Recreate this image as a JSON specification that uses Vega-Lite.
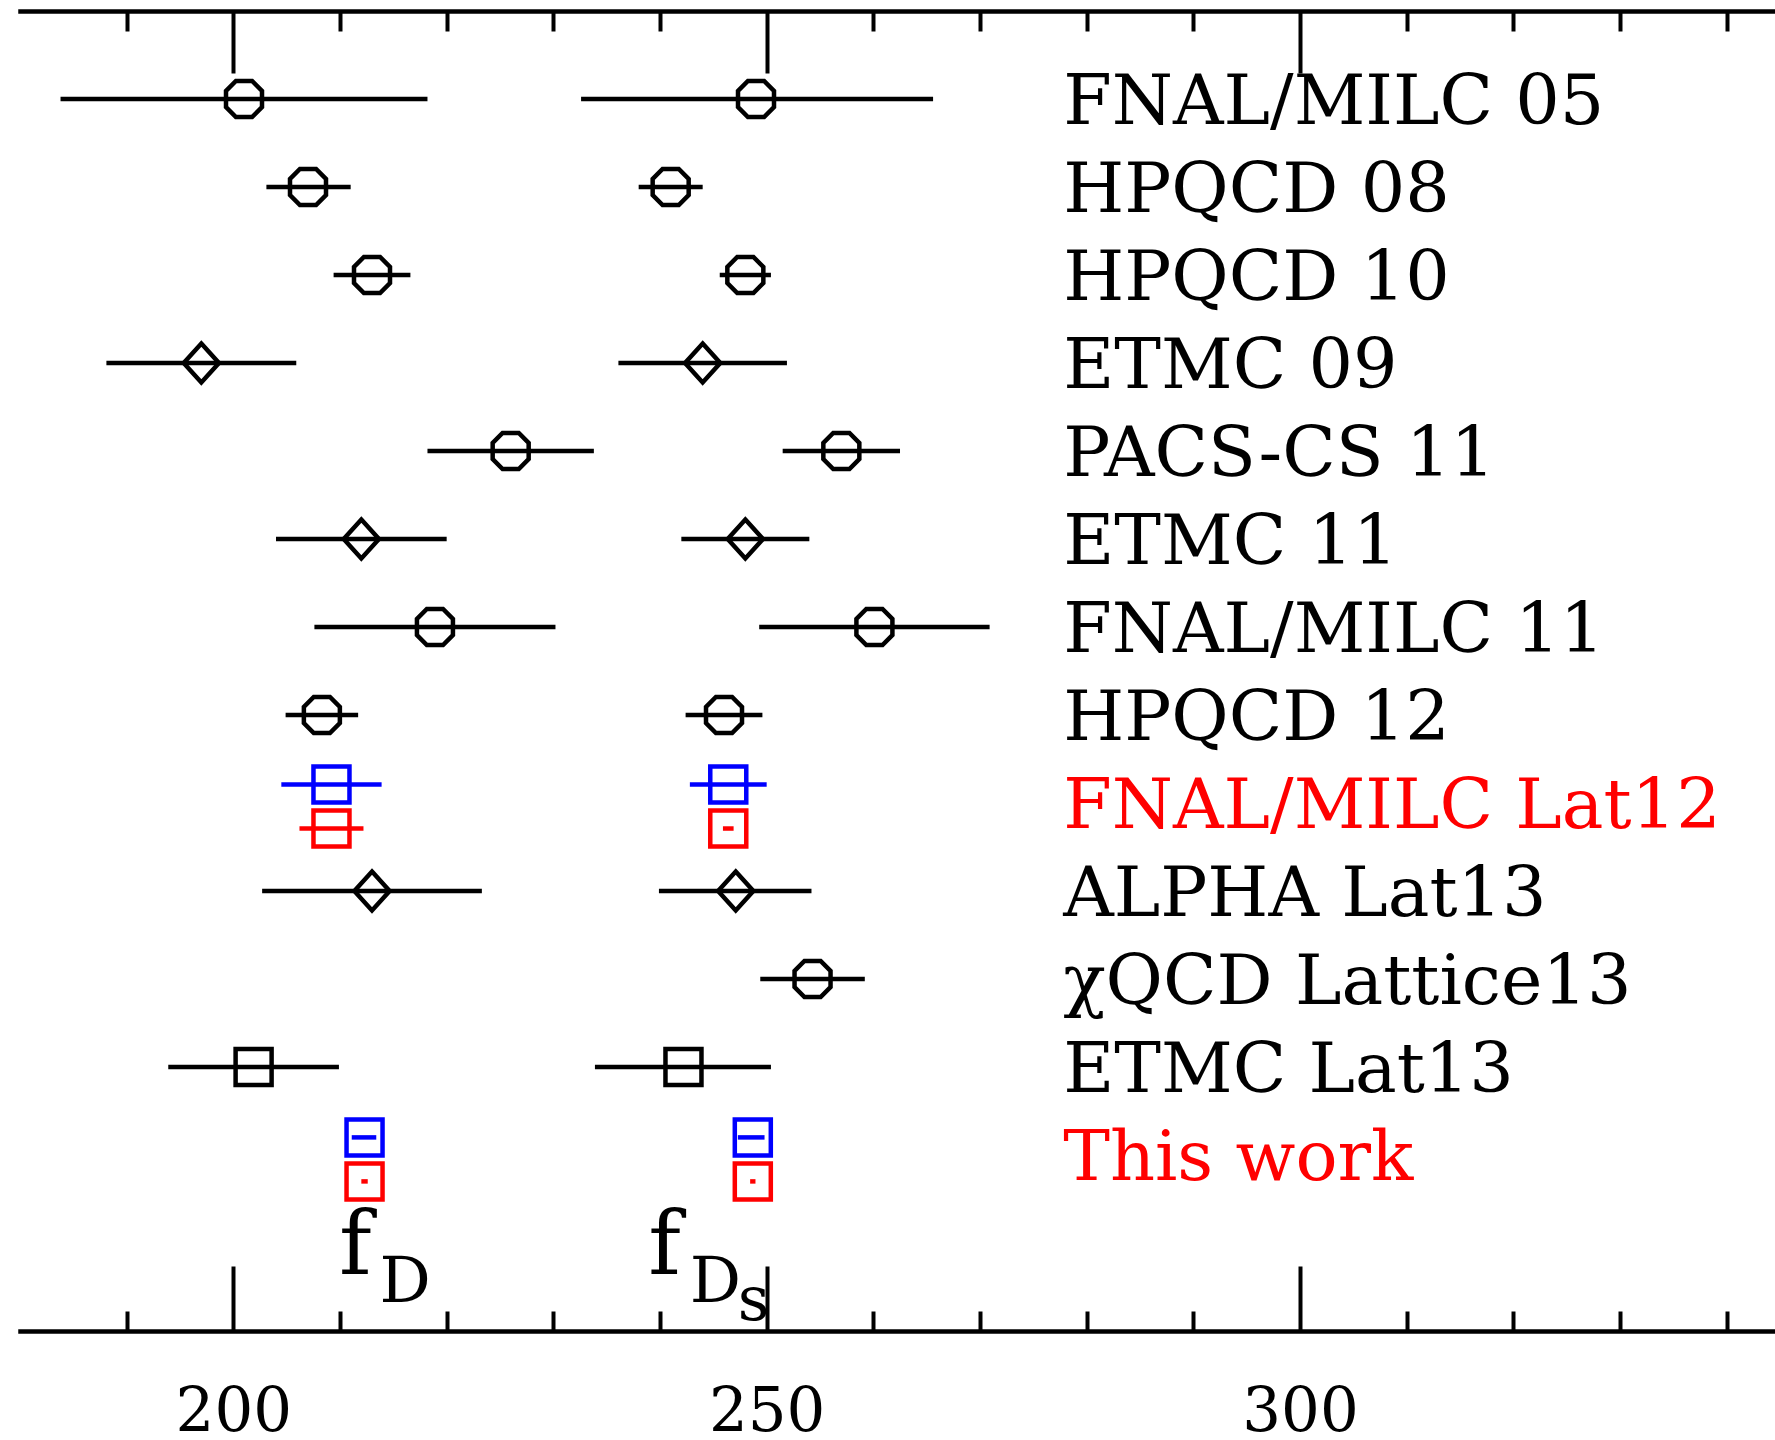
{
  "$schema": "https://vega.github.io/schema/vega-lite/v6.json",
  "width": 1755,
  "height": 1320,
  "autosize": "none",
  "padding": {"left": 20, "top": 11, "right": 0, "bottom": 109},
  "background": "white",
  "config": {"view": {"stroke": null}},
  "datasets": {
    "points": [
      {"collab": "FNAL/MILC 05", "row": 1, "meson": "fD", "val": 201.0, "lo": 183.8, "hi": 218.2, "sym": "octagon", "grp": "lit"},
      {"collab": "FNAL/MILC 05", "row": 1, "meson": "fDs", "val": 249.0, "lo": 232.6, "hi": 265.6, "sym": "octagon", "grp": "lit"},
      {"collab": "HPQCD 08", "row": 2, "meson": "fD", "val": 207.0, "lo": 203.1, "hi": 211.0, "sym": "octagon", "grp": "lit"},
      {"collab": "HPQCD 08", "row": 2, "meson": "fDs", "val": 241.0, "lo": 238.0, "hi": 244.0, "sym": "octagon", "grp": "lit"},
      {"collab": "HPQCD 10", "row": 3, "meson": "fD", "val": 213.0, "lo": 209.4, "hi": 216.6, "sym": "octagon", "grp": "lit"},
      {"collab": "HPQCD 10", "row": 3, "meson": "fDs", "val": 248.0, "lo": 245.6, "hi": 250.4, "sym": "octagon", "grp": "lit"},
      {"collab": "ETMC 09", "row": 4, "meson": "fD", "val": 197.0, "lo": 188.1, "hi": 205.9, "sym": "diamond", "grp": "lit"},
      {"collab": "ETMC 09", "row": 4, "meson": "fDs", "val": 244.0, "lo": 236.1, "hi": 251.9, "sym": "diamond", "grp": "lit"},
      {"collab": "PACS-CS 11", "row": 5, "meson": "fD", "val": 226.0, "lo": 218.2, "hi": 233.8, "sym": "octagon", "grp": "lit"},
      {"collab": "PACS-CS 11", "row": 5, "meson": "fDs", "val": 257.0, "lo": 251.5, "hi": 262.5, "sym": "octagon", "grp": "lit"},
      {"collab": "ETMC 11", "row": 6, "meson": "fD", "val": 212.0, "lo": 204.0, "hi": 220.0, "sym": "diamond", "grp": "lit"},
      {"collab": "ETMC 11", "row": 6, "meson": "fDs", "val": 248.0, "lo": 242.0, "hi": 254.0, "sym": "diamond", "grp": "lit"},
      {"collab": "FNAL/MILC 11", "row": 7, "meson": "fD", "val": 218.9, "lo": 207.6, "hi": 230.2, "sym": "octagon", "grp": "lit"},
      {"collab": "FNAL/MILC 11", "row": 7, "meson": "fDs", "val": 260.1, "lo": 249.3, "hi": 270.9, "sym": "octagon", "grp": "lit"},
      {"collab": "HPQCD 12", "row": 8, "meson": "fD", "val": 208.3, "lo": 204.9, "hi": 211.7, "sym": "octagon", "grp": "lit"},
      {"collab": "HPQCD 12", "row": 8, "meson": "fDs", "val": 246.0, "lo": 242.4, "hi": 249.6, "sym": "octagon", "grp": "lit"},
      {"collab": "FNAL/MILC Lat12", "row": 8.79, "meson": "fD", "val": 209.2, "lo": 204.5, "hi": 213.9, "sym": "square", "grp": "total"},
      {"collab": "FNAL/MILC Lat12", "row": 8.79, "meson": "fDs", "val": 246.4, "lo": 242.8, "hi": 250.0, "sym": "square", "grp": "total"},
      {"collab": "FNAL/MILC Lat12", "row": 9.29, "meson": "fD", "val": 209.2, "lo": 206.2, "hi": 212.2, "sym": "square", "grp": "stat"},
      {"collab": "FNAL/MILC Lat12", "row": 9.29, "meson": "fDs", "val": 246.4, "lo": 245.9, "hi": 246.9, "sym": "square", "grp": "stat"},
      {"collab": "ALPHA Lat13", "row": 10, "meson": "fD", "val": 213.0, "lo": 202.7, "hi": 223.3, "sym": "diamond", "grp": "lit"},
      {"collab": "ALPHA Lat13", "row": 10, "meson": "fDs", "val": 247.1, "lo": 239.9, "hi": 254.2, "sym": "diamond", "grp": "lit"},
      {"collab": "χQCD Lattice13", "row": 11, "meson": "fDs", "val": 254.3, "lo": 249.4, "hi": 259.2, "sym": "octagon", "grp": "lit"},
      {"collab": "ETMC Lat13", "row": 12, "meson": "fD", "val": 201.9, "lo": 193.9, "hi": 209.9, "sym": "square", "grp": "lit"},
      {"collab": "ETMC Lat13", "row": 12, "meson": "fDs", "val": 242.2, "lo": 233.9, "hi": 250.4, "sym": "square", "grp": "lit"},
      {"collab": "This work", "row": 12.8, "meson": "fD", "val": 212.3, "lo": 211.1, "hi": 213.4, "sym": "square", "grp": "total"},
      {"collab": "This work", "row": 12.8, "meson": "fDs", "val": 248.7, "lo": 247.3, "hi": 249.8, "sym": "square", "grp": "total"},
      {"collab": "This work", "row": 13.3, "meson": "fD", "val": 212.3, "lo": 212.0, "hi": 212.6, "sym": "square", "grp": "stat"},
      {"collab": "This work", "row": 13.3, "meson": "fDs", "val": 248.7, "lo": 248.45, "hi": 248.95, "sym": "square", "grp": "stat"}
    ],
    "labels": [
      {"name": "FNAL/MILC 05", "row": 1, "grp": "lit"},
      {"name": "HPQCD 08", "row": 2, "grp": "lit"},
      {"name": "HPQCD 10", "row": 3, "grp": "lit"},
      {"name": "ETMC 09", "row": 4, "grp": "lit"},
      {"name": "PACS-CS 11", "row": 5, "grp": "lit"},
      {"name": "ETMC 11", "row": 6, "grp": "lit"},
      {"name": "FNAL/MILC 11", "row": 7, "grp": "lit"},
      {"name": "HPQCD 12", "row": 8, "grp": "lit"},
      {"name": "FNAL/MILC Lat12", "row": 9, "grp": "new"},
      {"name": "ALPHA Lat13", "row": 10, "grp": "lit"},
      {"name": "χQCD Lattice13", "row": 11, "grp": "lit"},
      {"name": "ETMC Lat13", "row": 12, "grp": "lit"},
      {"name": "This work", "row": 13, "grp": "new"}
    ],
    "one": [{}]
  },
  "resolve": {"axis": {"x": "independent"}},
  "layer": [
    {
      "data": {"name": "points"},
      "mark": {"type": "rule", "strokeWidth": 4.5, "strokeCap": "butt"},
      "encoding": {
        "x": {
          "field": "lo", "type": "quantitative",
          "scale": {"domain": [180, 344.53], "nice": false, "zero": false},
          "axis": {
            "orient": "bottom", "title": null,
            "values": [190, 200, 210, 220, 230, 240, 250, 260, 270, 280, 290, 300, 310, 320, 330, 340],
            "domain": true, "domainColor": "black", "domainWidth": 4.5, "domainCap": "square",
            "ticks": true, "tickColor": "black", "tickWidth": 4,
            "tickSize": {"condition": {"test": "datum.value % 50 === 0", "value": -65}, "value": -20},
            "labelExpr": "datum.value % 50 === 0 ? datum.label : ''",
            "labelFont": "DejaVu Serif", "labelFontSize": 61, "labelColor": "black",
            "labelPadding": 116, "labelFlush": false, "labelOverlap": false, "labelBound": false,
            "grid": false
          }
        },
        "x2": {"field": "hi"},
        "y": {
          "field": "row", "type": "quantitative",
          "scale": {"domain": [0, 15], "reverse": true, "nice": false, "zero": false},
          "axis": {"orient": "left", "title": null, "domain": true, "domainColor": "black", "domainWidth": 4.5, "domainCap": "square", "ticks": false, "labels": false, "grid": false}
        },
        "color": {
          "field": "grp", "type": "nominal",
          "scale": {"domain": ["lit", "total", "stat", "new"], "range": ["#000000", "#0000ff", "#ff0000", "#ff0000"]},
          "legend": null
        }
      }
    },
    {
      "data": {"name": "points"},
      "mark": {"type": "point", "filled": false, "strokeWidth": 4.5, "size": 1296, "opacity": 1},
      "encoding": {
        "x": {
          "field": "val", "type": "quantitative",
          "scale": {"domain": [180, 344.53], "nice": false, "zero": false},
          "axis": {
            "orient": "top", "title": null,
            "values": [190, 200, 210, 220, 230, 240, 250, 260, 270, 280, 290, 300, 310, 320, 330, 340],
            "domain": true, "domainColor": "black", "domainWidth": 4.5, "domainCap": "square",
            "ticks": true, "tickColor": "black", "tickWidth": 4,
            "tickSize": {"condition": {"test": "datum.value % 50 === 0", "value": -62}, "value": -20},
            "labels": false, "grid": false
          }
        },
        "y": {"field": "row", "type": "quantitative", "axis": null},
        "shape": {
          "field": "sym", "type": "nominal",
          "scale": {"domain": ["octagon", "diamond", "square"], "range": ["M -0.45,-1 L 0.45,-1 L 1,-0.45 L 1,0.45 L 0.45,1 L -0.45,1 L -1,0.45 L -1,-0.45 Z", "M 0,-1.08 L 0.98,0 L 0,1.08 L -0.98,0 Z", "square"]},
          "legend": null
        },
        "color": {"field": "grp", "type": "nominal", "legend": null}
      }
    },
    {
      "data": {"name": "labels"},
      "mark": {"type": "text", "font": "DejaVu Serif", "fontSize": 70, "align": "left", "baseline": "alphabetic", "dy": 25},
      "encoding": {
        "x": {"datum": 277.8, "type": "quantitative", "axis": null},
        "y": {"field": "row", "type": "quantitative", "axis": null},
        "text": {"field": "name"},
        "color": {"field": "grp", "type": "nominal", "legend": null}
      }
    },
    {
      "data": {"name": "one"},
      "mark": {"type": "text", "font": "DejaVu Serif", "fontSize": 88, "align": "left", "baseline": "alphabetic", "color": "black"},
      "encoding": {
        "x": {"datum": 209.9, "type": "quantitative", "axis": null},
        "y": {"datum": 14.35, "type": "quantitative", "axis": null},
        "text": {"value": "f"}
      }
    },
    {
      "data": {"name": "one"},
      "mark": {"type": "text", "font": "DejaVu Serif", "fontSize": 64, "align": "left", "baseline": "alphabetic", "color": "black"},
      "encoding": {
        "x": {"datum": 213.7, "type": "quantitative", "axis": null},
        "y": {"datum": 14.67, "type": "quantitative", "axis": null},
        "text": {"value": "D"}
      }
    },
    {
      "data": {"name": "one"},
      "mark": {"type": "text", "font": "DejaVu Serif", "fontSize": 88, "align": "left", "baseline": "alphabetic", "color": "black"},
      "encoding": {
        "x": {"datum": 238.9, "type": "quantitative", "axis": null},
        "y": {"datum": 14.35, "type": "quantitative", "axis": null},
        "text": {"value": "f"}
      }
    },
    {
      "data": {"name": "one"},
      "mark": {"type": "text", "font": "DejaVu Serif", "fontSize": 64, "align": "left", "baseline": "alphabetic", "color": "black"},
      "encoding": {
        "x": {"datum": 242.8, "type": "quantitative", "axis": null},
        "y": {"datum": 14.67, "type": "quantitative", "axis": null},
        "text": {"value": "D"}
      }
    },
    {
      "data": {"name": "one"},
      "mark": {"type": "text", "font": "DejaVu Serif", "fontSize": 62, "align": "left", "baseline": "alphabetic", "color": "black"},
      "encoding": {
        "x": {"datum": 247.3, "type": "quantitative", "axis": null},
        "y": {"datum": 14.88, "type": "quantitative", "axis": null},
        "text": {"value": "s"}
      }
    }
  ]
}
